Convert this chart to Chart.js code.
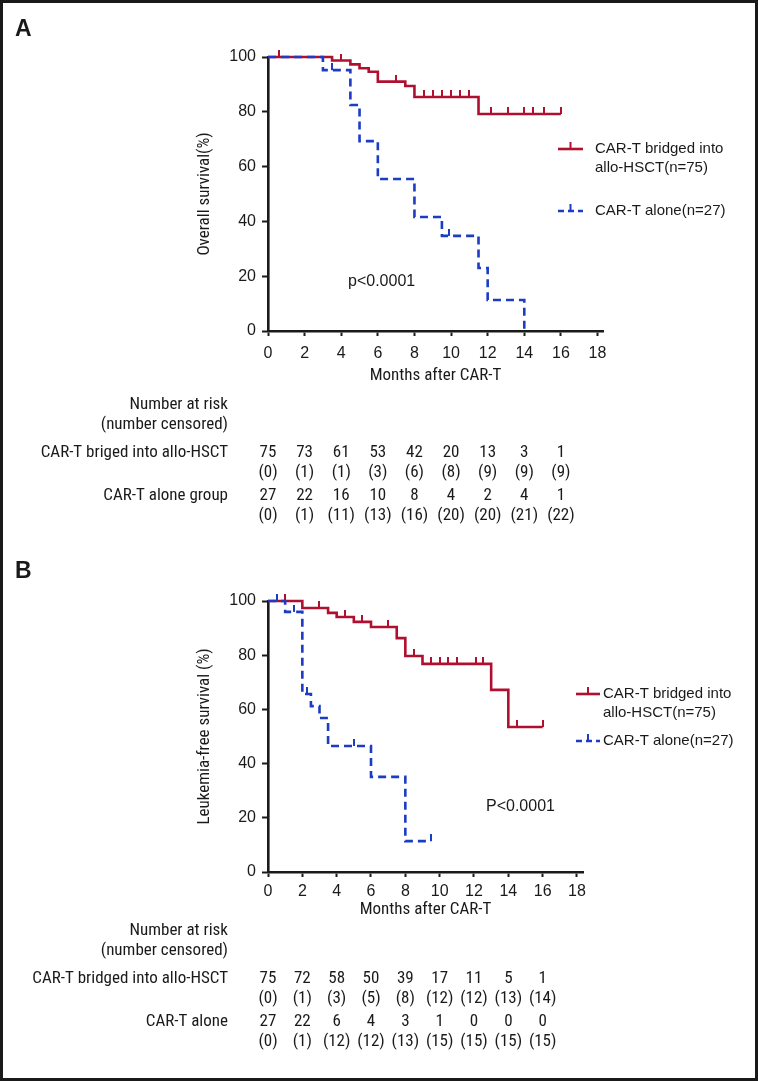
<!DOCTYPE html>
<html>
<head>
<meta charset="utf-8">
<script src="https://cdn.jsdelivr.net/npm/chart.js@4.4.1/dist/chart.umd.min.js"></script>
<style>
  html, body { margin: 0; padding: 0; background: #fff; }
  canvas { position: absolute; left: 0; }
  #cA { top: 0; }
  #cB { top: 540px; }
  #frame { position: absolute; left: 0; top: 0; width: 758px; height: 1081px; box-sizing: border-box; border: 3px solid #1a1a1a; pointer-events: none; }
</style>
</head>
<body>
<canvas id="cA" width="758" height="540"></canvas>
<canvas id="cB" width="758" height="541"></canvas>
<div id="frame"></div>
<script>
// x axis ticks (months) and columns of the number-at-risk tables
const tickMonths = [0, 2, 4, 6, 8, 10, 12, 14, 16, 18]
const yTicks = [0, 20, 40, 60, 80, 100]
const tableMonths = [0, 2, 4, 6, 8, 10, 12, 14, 16]

// ---- A: overall survival ----
const osAlloTime = [0, 3.5, 4.5, 5.0, 5.5, 6.0, 7.5, 8.0, 11.5, 16.0]
const osAlloSurv = [100, 98.7, 97.3, 95.9, 94.6, 91.0, 89.4, 85.4, 79.2, 79.2]
const osAlloCensored = [0.6, 4.0, 7.0, 8.5, 9.0, 9.5, 10.0, 10.5, 11.0, 12.2, 13.1, 14.0, 14.5, 15.1, 16.0]
const osAloneTime = [0, 3.0, 4.5, 5.0, 6.0, 8.0, 9.5, 11.5, 12.0, 14.0]
const osAloneSurv = [100, 95.2, 82.5, 69.3, 55.5, 41.6, 34.7, 23.0, 11.3, 0]
const osAloneCensored = [3.5, 9.9]

const osAlloRisk = [75, 73, 61, 53, 42, 20, 13, 3, 1]
const osAlloCens = [0, 1, 1, 3, 6, 8, 9, 9, 9]
const osAloneRisk = [27, 22, 16, 10, 8, 4, 2, 4, 1]
const osAloneCens = [0, 1, 11, 13, 16, 20, 20, 21, 22]

// ---- B: leukemia-free survival ----
const lfsAlloTime = [0, 2.0, 3.5, 4.0, 5.0, 6.0, 7.5, 8.0, 9.0, 13.0, 14.0, 16.0]
const lfsAlloSurv = [100, 97.4, 95.6, 94.1, 92.3, 90.4, 86.3, 79.7, 76.8, 67.2, 53.5, 53.5]
const lfsAlloCensored = [1.0, 3.0, 4.5, 5.5, 7.0, 8.5, 9.5, 10.0, 10.5, 11.0, 12.1, 12.5, 14.5, 16.0]
const lfsAloneTime = [0, 1.0, 2.0, 2.5, 3.0, 3.5, 6.0, 8.0, 9.5]
const lfsAloneSurv = [100, 96.0, 65.7, 61.2, 56.8, 46.5, 35.1, 11.4, 11.4]
const lfsAloneCensored = [0.5, 1.5, 2.25, 5.0, 9.5]

const lfsAlloRisk = [75, 72, 58, 50, 39, 17, 11, 5, 1]
const lfsAlloCens = [0, 1, 3, 5, 8, 12, 12, 13, 14]
const lfsAloneRisk = [27, 22, 6, 4, 3, 1, 0, 0, 0]
const lfsAloneCens = [0, 1, 12, 12, 13, 15, 15, 15, 15]

const RED = '#b01030'
const BLUE = '#1c3cc4'
const INK = '#1a1a1a'
const SANS = '"Liberation Sans", Arial, Helvetica, sans-serif'
const NARROW = '"Liberation Sans Narrow", "Arial Narrow", "Roboto Condensed", "DejaVu Sans Condensed", sans-serif'

function toPoints(time, surv) {
  return time.map((t, i) => ({ x: t, y: surv[i] }))
}

// censored marks sit on the step curve at their time
function censorPoints(time, surv, censored) {
  return censored.map(t => {
    let y = surv[0]
    time.forEach((tt, i) => { if (tt <= t) y = surv[i] })
    return { x: t, y: y }
  })
}

// small upward tick used as point style for censored patients
function tickMark(color) {
  const c = document.createElement('canvas')
  c.width = 2
  c.height = 14
  const g = c.getContext('2d')
  g.fillStyle = color
  g.fillRect(0, 0, 2, 7)
  return c
}

function curveSets(allo, alone) {
  return [
    { data: toPoints(alone.time, alone.surv), showLine: true, stepped: 'before', borderColor: BLUE, borderWidth: 2.6, borderDash: [8, 5], pointRadius: 0, clip: false },
    { data: censorPoints(alone.time, alone.surv, alone.censored), showLine: false, pointStyle: tickMark(BLUE), pointRadius: 4, clip: false },
    { data: toPoints(allo.time, allo.surv), showLine: true, stepped: 'before', borderColor: RED, borderWidth: 2.6, pointRadius: 0, clip: false },
    { data: censorPoints(allo.time, allo.surv, allo.censored), showLine: false, pointStyle: tickMark(RED), pointRadius: 4, clip: false }
  ]
}

function panelExtras(spec) {
  return {
    id: 'extras' + spec.letter,
    afterDraw(chart) {
      const ctx = chart.ctx
      const xs = chart.scales.x
      ctx.save()
      ctx.fillStyle = INK
      ctx.textBaseline = 'middle'

      ctx.textAlign = 'left'
      ctx.font = 'bold 23px ' + SANS
      ctx.fillText(spec.letter, spec.letterAt[0], spec.letterAt[1])

      ctx.font = '16px ' + SANS
      ctx.fillText(spec.pText, spec.pAt[0], spec.pAt[1])

      // legend
      spec.legend.forEach(item => {
        ctx.strokeStyle = item.color
        ctx.lineWidth = 2.6
        ctx.setLineDash(item.dash)
        ctx.beginPath()
        ctx.moveTo(item.x1, item.y)
        ctx.lineTo(item.x2, item.y)
        ctx.stroke()
        ctx.setLineDash([])
        ctx.beginPath()
        const mid = (item.x1 + item.x2) / 2
        ctx.moveTo(mid, item.y)
        ctx.lineTo(mid, item.y - 7)
        ctx.lineWidth = 2
        ctx.stroke()
        ctx.fillStyle = INK
        ctx.font = '15px ' + SANS
        item.lines.forEach((txt, i) => ctx.fillText(txt, item.textX, item.y + i * 19))
      })

      // number at risk table
      ctx.font = '17px ' + NARROW
      ctx.textAlign = 'right'
      spec.header.forEach(h => ctx.fillText(h.text, spec.labelRight, h.y))
      spec.rows.forEach(row => {
        ctx.textAlign = 'right'
        ctx.fillText(row.label, spec.labelRight, row.y)
        ctx.textAlign = 'center'
        tableMonths.forEach((m, i) => {
          const px = xs.getPixelForValue(m)
          ctx.fillText(String(row.risk[i]), px, row.y)
          ctx.fillText('(' + row.cens[i] + ')', px, row.y + 20)
        })
      })
      ctx.restore()
    }
  }
}

function makeChart(canvasId, sets, yTitle, xMax, box, extras) {
  return new Chart(document.getElementById(canvasId), {
    type: 'scatter',
    data: { datasets: sets },
    options: {
      responsive: false,
      animation: false,
      events: [],
      layout: { padding: { left: box.left, top: box.top, right: box.right, bottom: box.bottom } },
      plugins: { legend: { display: false }, tooltip: { enabled: false } },
      scales: {
        x: {
          type: 'linear', min: 0, max: xMax,
          afterBuildTicks: s => { s.ticks = tickMonths.map(v => ({ value: v })) },
          afterFit: s => { s.height = box.xHeight },
          ticks: { color: INK, font: { family: SANS, size: 16 }, padding: box.tickPad, maxRotation: 0 },
          grid: { drawOnChartArea: false, tickLength: 5, tickWidth: 2, tickColor: INK },
          border: { color: INK, width: 2.6 },
          title: { display: true, text: 'Months after CAR-T', color: INK, font: { family: NARROW, size: 17 }, padding: 0 }
        },
        y: {
          min: 0, max: 100,
          afterBuildTicks: s => { s.ticks = yTicks.map(v => ({ value: v })) },
          afterFit: s => { s.width = box.yWidth },
          ticks: { color: INK, font: { family: SANS, size: 16 }, padding: 6 },
          grid: { drawOnChartArea: false, tickLength: 6, tickWidth: 2, tickColor: INK },
          border: { color: INK, width: 2.6 },
          title: { display: true, text: yTitle, color: INK, font: { family: NARROW, size: 17 }, padding: 0 }
        }
      }
    },
    plugins: [extras]
  })
}

const graficoA = makeChart('cA',
  curveSets(
    { time: osAlloTime, surv: osAlloSurv, censored: osAlloCensored },
    { time: osAloneTime, surv: osAloneSurv, censored: osAloneCensored }),
  'Overall survival(%)', 18.3,
  { left: 195, top: 57, right: 155, bottom: 154, yWidth: 73, xHeight: 55, tickPad: 8 },
  panelExtras({
    letter: 'A', letterAt: [15, 30],
    pText: 'p<0.0001', pAt: [348, 282],
    legend: [
      { color: RED, dash: [], x1: 558, x2: 583, y: 149, textX: 595, lines: ['CAR-T bridged into', 'allo-HSCT(n=75)'] },
      { color: BLUE, dash: [6, 4], x1: 558, x2: 583, y: 211, textX: 595, lines: ['CAR-T alone(n=27)'] }
    ],
    labelRight: 228,
    header: [{ text: 'Number at risk', y: 405 }, { text: '(number censored)', y: 425 }],
    rows: [
      { label: 'CAR-T briged into allo-HSCT', y: 453, risk: osAlloRisk, cens: osAlloCens },
      { label: 'CAR-T alone group', y: 496, risk: osAloneRisk, cens: osAloneCens }
    ]
  }))

const graficoB = makeChart('cB',
  curveSets(
    { time: lfsAlloTime, surv: lfsAlloSurv, censored: lfsAlloCensored },
    { time: lfsAloneTime, surv: lfsAloneSurv, censored: lfsAloneCensored }),
  'Leukemia-free survival (%)', 18.35,
  { left: 195, top: 61, right: 175, bottom: 161, yWidth: 73, xHeight: 48, tickPad: 5 },
  panelExtras({
    letter: 'B', letterAt: [15, 32],
    pText: 'P<0.0001', pAt: [486, 267],
    legend: [
      { color: RED, dash: [], x1: 576, x2: 600, y: 154, textX: 603, lines: ['CAR-T bridged into', 'allo-HSCT(n=75)'] },
      { color: BLUE, dash: [6, 4], x1: 576, x2: 600, y: 201, textX: 603, lines: ['CAR-T alone(n=27)'] }
    ],
    labelRight: 228,
    header: [{ text: 'Number at risk', y: 391 }, { text: '(number censored)', y: 411 }],
    rows: [
      { label: 'CAR-T bridged into allo-HSCT', y: 439, risk: lfsAlloRisk, cens: lfsAlloCens },
      { label: 'CAR-T alone', y: 482, risk: lfsAloneRisk, cens: lfsAloneCens }
    ]
  }))
</script>
</body>
</html>
